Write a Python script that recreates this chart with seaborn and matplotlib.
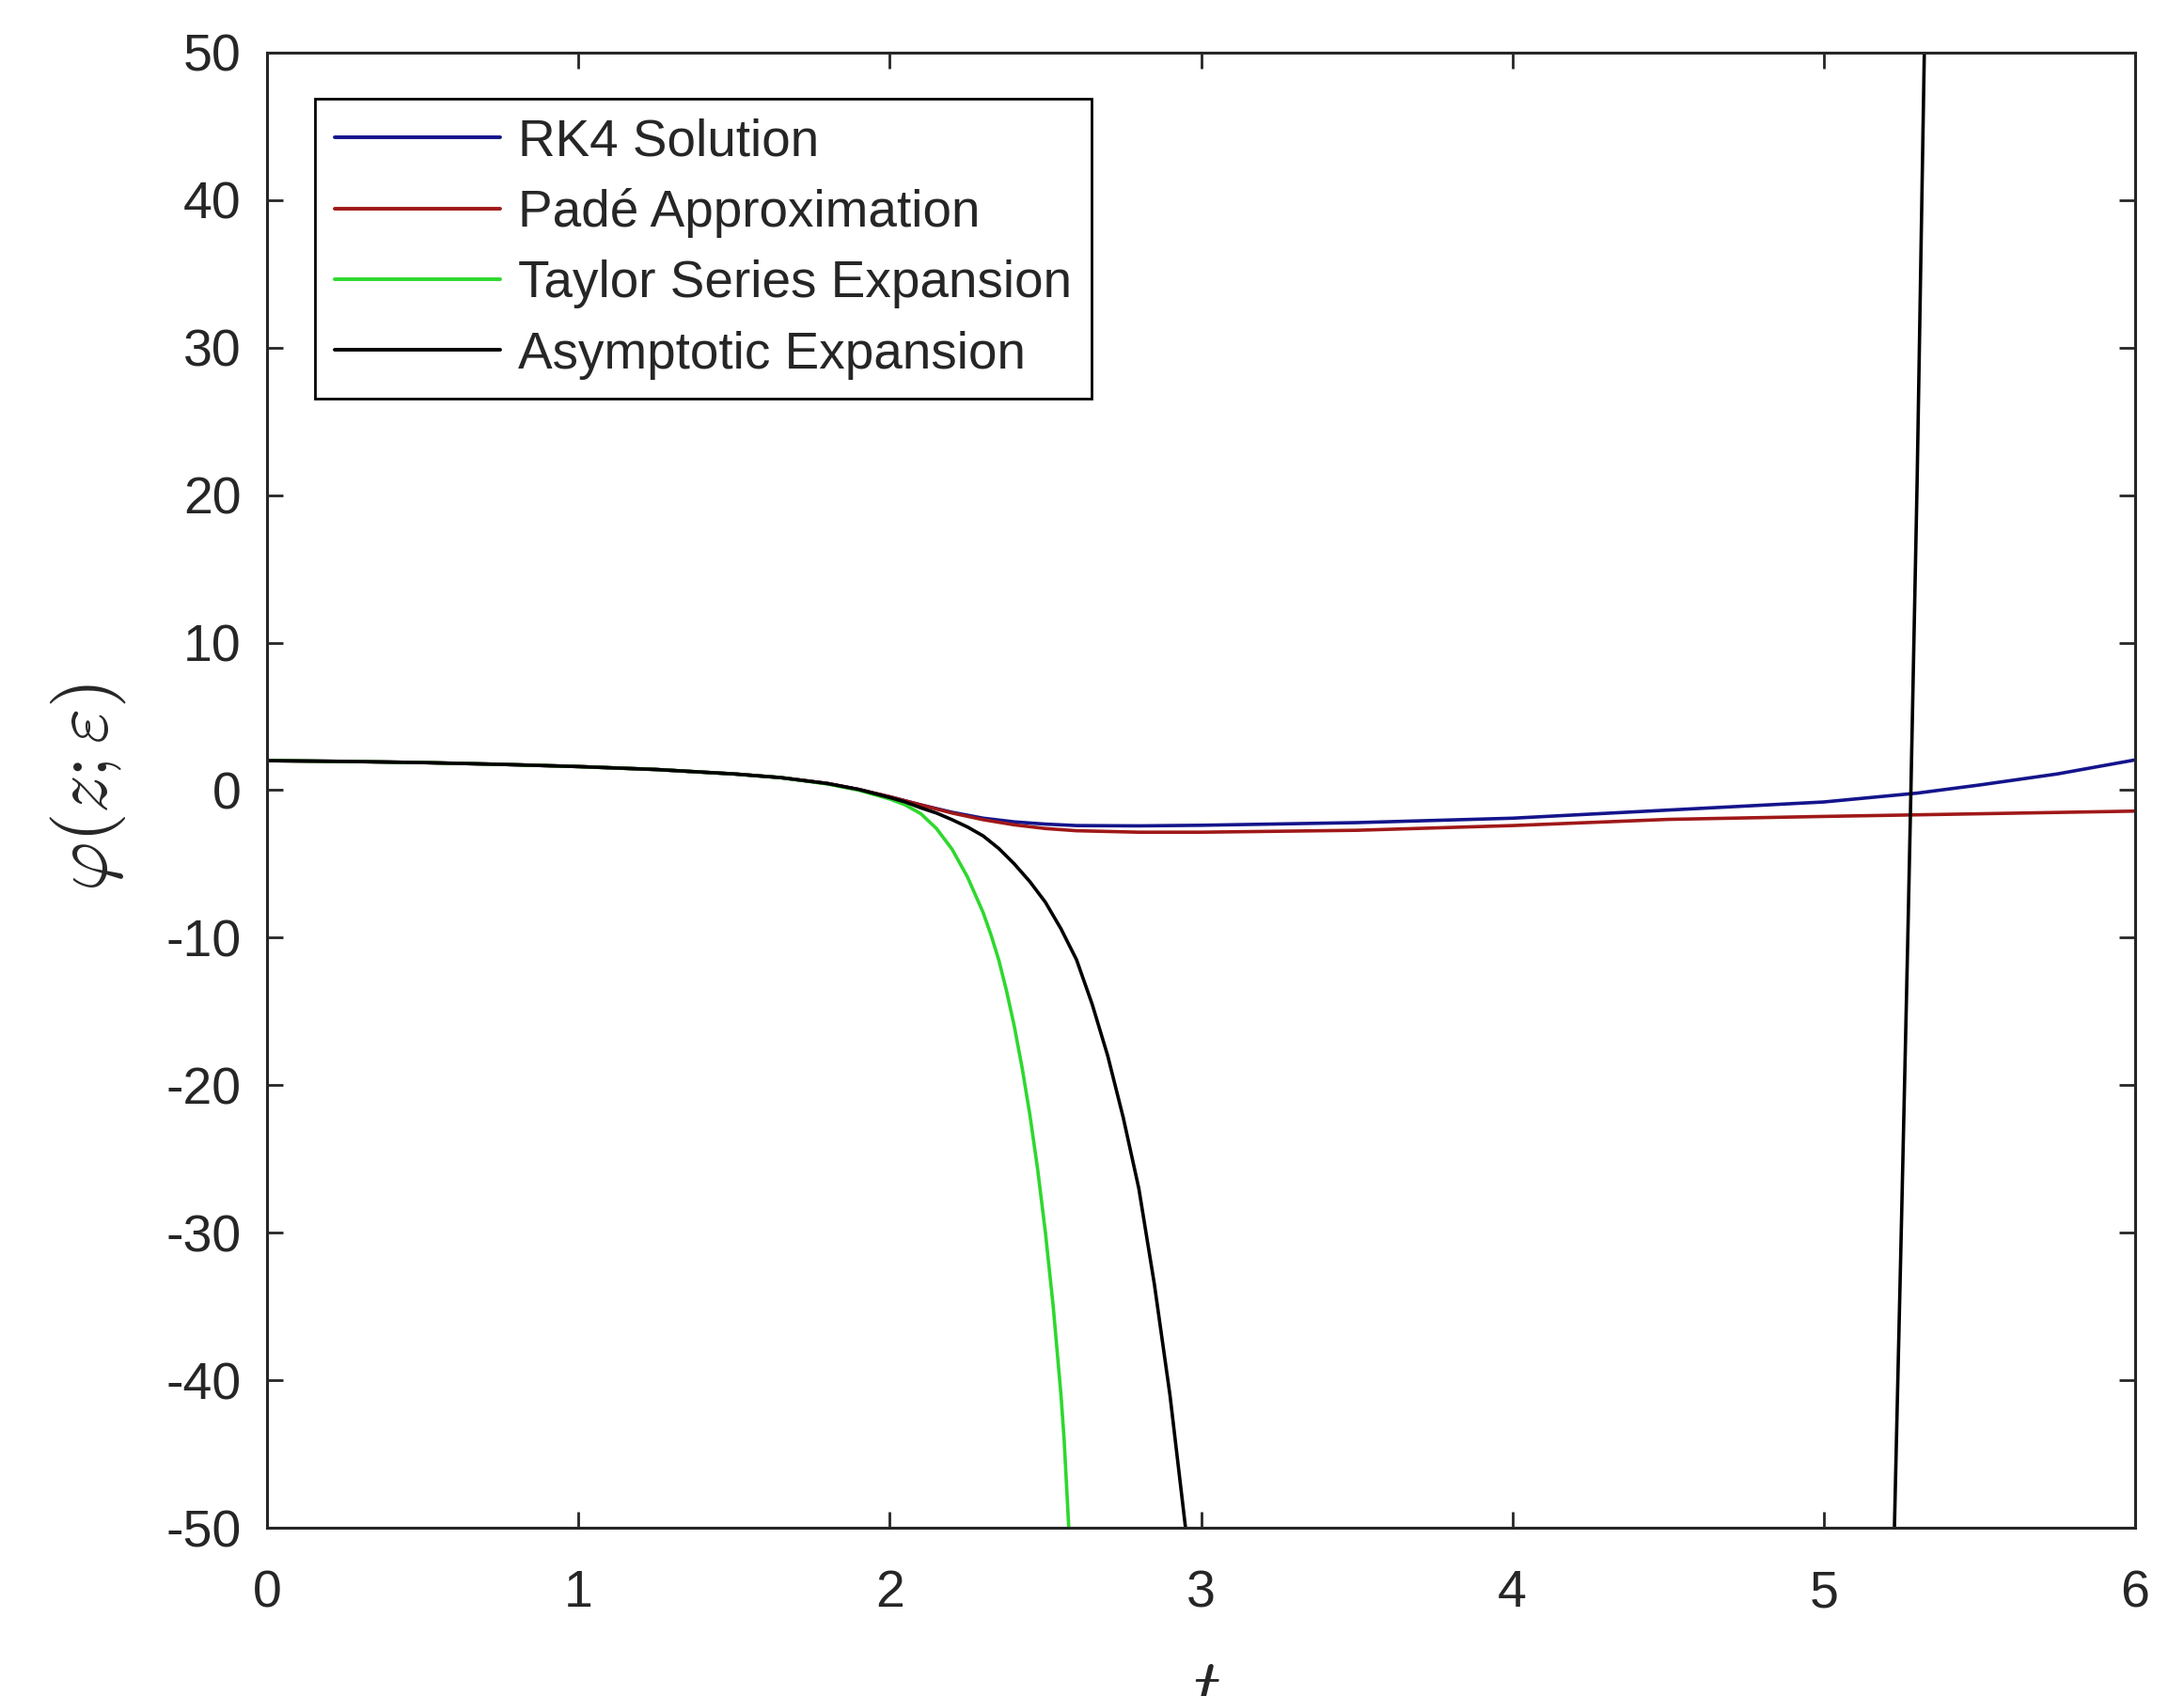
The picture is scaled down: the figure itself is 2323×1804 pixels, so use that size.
import numpy as np
import pandas as pd
import matplotlib
matplotlib.use("Agg")
import matplotlib.pyplot as plt
import seaborn as sns

# ---------------- data ----------------
t_rk4 = [0.0, 0.25, 0.5, 0.75, 1.0, 1.25, 1.5, 1.65, 1.8, 1.9, 2.0, 2.1, 2.2, 2.3, 2.4,
         2.5, 2.6, 2.8, 3.0, 3.5, 4.0, 4.5, 5.0, 5.3, 5.5, 5.75, 6.0]
phi_rk4 = [2.0, 1.95, 1.87, 1.75, 1.6, 1.4, 1.1, 0.85, 0.45, 0.05, -0.45, -1.0, -1.5, -1.9, -2.15,
           -2.3, -2.4, -2.42, -2.38, -2.2, -1.9, -1.35, -0.8, -0.2, 0.35, 1.1, 2.05]

t_pade = [0.0, 0.25, 0.5, 0.75, 1.0, 1.25, 1.5, 1.65, 1.8, 1.9, 2.0, 2.1, 2.2, 2.3, 2.4,
          2.5, 2.6, 2.8, 3.0, 3.5, 4.0, 4.5, 5.0, 5.5, 6.0]
phi_pade = [2.0, 1.95, 1.87, 1.75, 1.6, 1.4, 1.1, 0.85, 0.45, 0.05, -0.45, -1.0, -1.55, -2.0, -2.35,
            -2.6, -2.75, -2.85, -2.85, -2.72, -2.4, -1.98, -1.78, -1.6, -1.42]

t_taylor = [0.0, 0.25, 0.5, 0.75, 1.0, 1.25, 1.5, 1.65, 1.8, 1.9, 2.0, 2.05, 2.1, 2.15, 2.2,
            2.25, 2.3, 2.325, 2.35, 2.375, 2.4, 2.425, 2.45, 2.475, 2.5, 2.525, 2.55,
            2.56, 2.575, 2.6]
phi_taylor = [2.0, 1.95, 1.87, 1.75, 1.6, 1.4, 1.1, 0.85, 0.42, 0.0, -0.6, -1.0, -1.6, -2.6, -4.0,
              -5.9, -8.3, -9.8, -11.5, -13.6, -16.0, -18.8, -22.0, -25.7, -30.0, -35.0, -41.0,
              -44.0, -50.0, -58.0]

t_asym = [0.0, 0.25, 0.5, 0.75, 1.0, 1.25, 1.5, 1.65, 1.8, 1.9, 2.0, 2.05, 2.1, 2.15, 2.2,
          2.25, 2.3, 2.35, 2.4, 2.45, 2.5, 2.55, 2.6, 2.65, 2.7, 2.75, 2.8, 2.85, 2.9,
          2.95, 3.0, 3.1, 5.1, 5.2, 5.227, 5.25, 5.27, 5.28, 5.3, 5.323, 5.35]
phi_asym = [2.0, 1.95, 1.87, 1.75, 1.6, 1.4, 1.1, 0.85, 0.45, 0.05, -0.5, -0.8, -1.2, -1.55, -2.0,
            -2.5, -3.1, -3.95, -5.0, -6.2, -7.6, -9.4, -11.5, -14.5, -18.0, -22.2, -27.0, -33.5,
            -41.0, -50.0, -60.0, -85.0, -180.0, -80.0, -50.0, -29.0, -10.0, 0.0, 21.0, 50.0, 85.0]

labels = ["RK4 Solution", "Padé Approximation", "Taylor Series Expansion", "Asymptotic Expansion"]
colors = ["#14148c", "#a01818", "#2ed82e", "#000000"]

x_ticks = [0, 1, 2, 3, 4, 5, 6]
y_ticks = [-50, -40, -30, -20, -10, 0, 10, 20, 30, 40, 50]

# ---------------- build long table ----------------
frames = []
for lab, tt, pp in zip(labels, [t_rk4, t_pade, t_taylor, t_asym],
                       [phi_rk4, phi_pade, phi_taylor, phi_asym]):
    frames.append(pd.DataFrame({"t": tt, "phi": pp, "series": lab}))
df = pd.concat(frames, ignore_index=True)

# ---------------- style ----------------
sns.set_theme(style="ticks")
plt.rcParams["font.family"] = ["Liberation Sans", "DejaVu Sans"]
plt.rcParams["mathtext.fontset"] = "cm"

fig = plt.figure(figsize=(23.23, 18.04), dpi=100)
ax = fig.add_axes([0.1223, 0.0992, 0.8553, 0.8698])

sns.lineplot(data=df, x="t", y="phi", hue="series", hue_order=labels,
             palette=dict(zip(labels, colors)), sort=False, estimator=None,
             linewidth=2.6, ax=ax)

ax.set_xlim(0, 6)
ax.set_ylim(-50, 50)
ax.set_xticks(x_ticks)
ax.set_yticks(y_ticks)
ax.set_xticklabels([str(v) for v in x_ticks])
ax.set_yticklabels([str(v) for v in y_ticks])

for sp in ax.spines.values():
    sp.set_visible(True)
    sp.set_linewidth(2.2)
    sp.set_color("#262626")

ax.tick_params(axis="both", which="major", direction="in", length=12, width=2.0,
               color="#262626", labelcolor="#262626", labelsize=40,
               top=True, right=True)
ax.tick_params(axis="x", pad=32)
ax.tick_params(axis="y", pad=20)

ax.set_xlabel(r"$t$", fontsize=58, color="#262626")
ax.xaxis.set_label_coords(0.503, -0.087)
ax.set_ylabel(r"$\varphi(z;\varepsilon)$", fontsize=58, color="#262626")
ax.yaxis.set_label_coords(-0.0745, 0.502)

leg = ax.legend(loc="upper left", bbox_to_anchor=(0.0257, 0.969), fontsize=39.5,
                frameon=True, fancybox=False, framealpha=1, edgecolor="#000000",
                handlelength=3.2, handletextpad=0.35, labelspacing=0.42,
                borderpad=0.38, borderaxespad=0)
leg.get_frame().set_linewidth(2.0)
for line in leg.get_lines():
    line.set_linewidth(2.8)

fig.savefig("out.png", dpi=100, facecolor="white")
